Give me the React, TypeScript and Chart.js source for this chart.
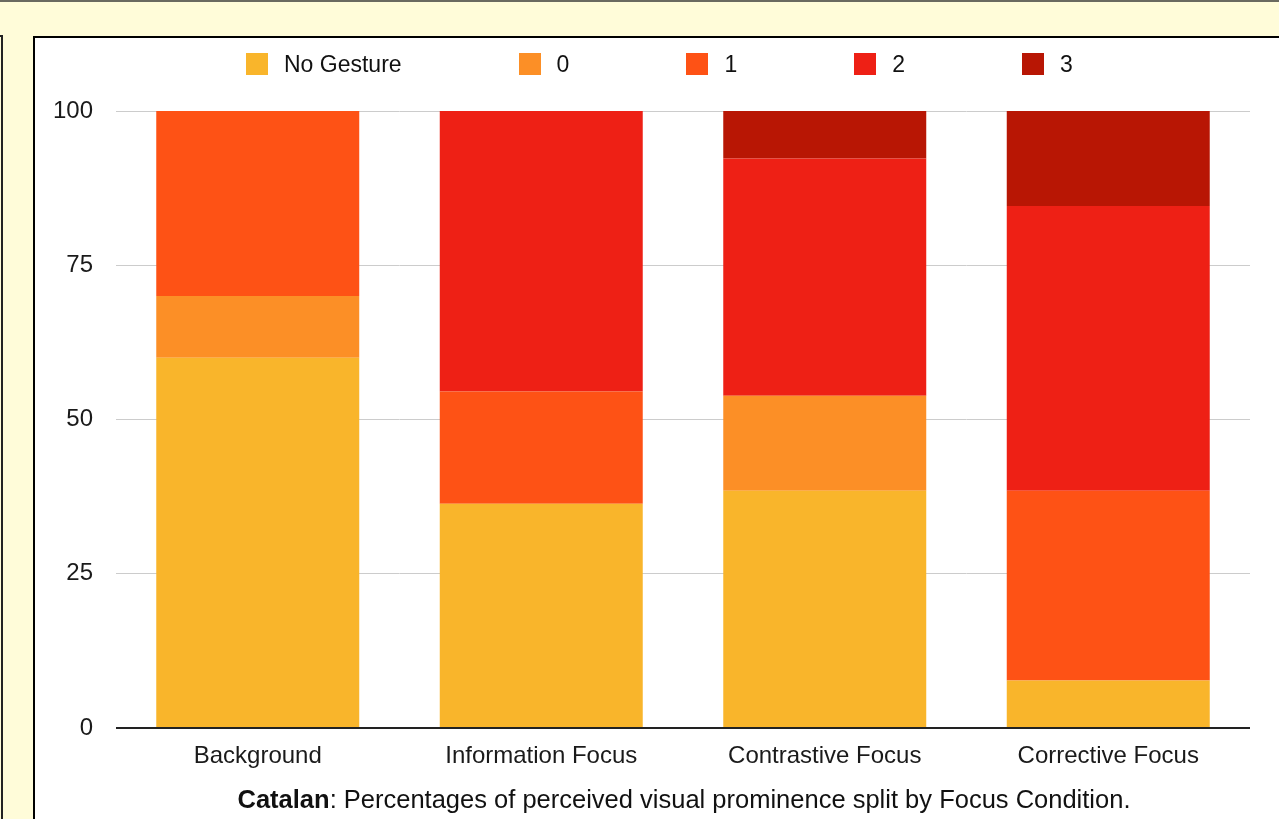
import React, { useEffect, useRef } from "react";
import { Chart, registerables } from "chart.js";

Chart.register(...registerables);

const categories = ["Background", "Information Focus", "Contrastive Focus", "Corrective Focus"];
const seriesNames = ["No Gesture", "0", "1", "2", "3"];
const noGesture = [60, 36.36, 38.46, 7.69];
const level0 = [10, 0, 15.38, 0];
const level1 = [30, 18.18, 0, 30.77];
const level2 = [0, 45.45, 38.46, 46.15];
const level3 = [0, 0, 7.69, 15.38];
const yTicks = [0, 25, 50, 75, 100];
const seriesColors = ["#F9B52B", "#FC8F26", "#FE5215", "#EE2015", "#B81604"];

const FONT = '"Liberation Sans", Arial, Helvetica, sans-serif';

export default function App() {
  const canvasRef = useRef<HTMLCanvasElement | null>(null);

  useEffect(() => {
    if (!canvasRef.current) return;
    const seriesValues = [noGesture, level0, level1, level2, level3];
    const chart = new Chart(canvasRef.current, {
      type: "bar",
      data: {
        labels: categories,
        datasets: seriesNames.map((name, i) => ({
          label: name,
          data: seriesValues[i],
          backgroundColor: seriesColors[i],
          borderWidth: 0,
          barPercentage: 0.716,
          categoryPercentage: 1,
        })),
      },
      options: {
        responsive: false,
        animation: false,
        layout: { padding: { top: 73, right: 29, bottom: 0, left: 0 } },
        plugins: {
          legend: { display: false },
          title: { display: false },
          tooltip: { enabled: false },
        },
        scales: {
          x: {
            stacked: true,
            grid: { display: false, drawTicks: false },
            border: { display: false },
            ticks: {
              color: "#1a1a1a",
              font: { family: FONT, size: 24 },
              padding: 14,
              maxRotation: 0,
              autoSkip: false,
            },
            afterFit: (s: any) => {
              s.height = 91;
            },
          },
          y: {
            stacked: true,
            min: 0,
            max: 100,
            afterBuildTicks: (s: any) => {
              s.ticks = yTicks.map((v) => ({ value: v }));
            },
            grid: {
              drawTicks: false,
              color: (c: any) => (c.tick && c.tick.value === 0 ? "#222222" : "#cccccc"),
              lineWidth: (c: any) => (c.tick && c.tick.value === 0 ? 2 : 1),
            },
            border: { display: false },
            ticks: {
              color: "#1a1a1a",
              font: { family: FONT, size: 24 },
              padding: 23,
            },
            afterFit: (s: any) => {
              s.width = 81;
            },
          },
        },
      },
    });
    return () => chart.destroy();
  }, []);

  return (
    <div
      style={{
        position: "fixed",
        left: 0,
        top: 0,
        width: 1279,
        height: 819,
        overflow: "hidden",
        background: "#FFFCD9",
        fontFamily: FONT,
      }}
    >
      <div style={{ position: "absolute", left: 0, top: 0, width: 1279, height: 2, background: "#6a6a60" }} />
      <div
        style={{
          position: "absolute",
          left: -100,
          top: 35,
          width: 103,
          height: 900,
          boxSizing: "border-box",
          border: "2px solid #222",
        }}
      />
      <div
        style={{
          position: "absolute",
          left: 33,
          top: 36,
          width: 1300,
          height: 900,
          boxSizing: "border-box",
          border: "2px solid #000",
          background: "#ffffff",
        }}
      >
        <canvas
          ref={canvasRef}
          width={1244}
          height={781}
          style={{ position: "absolute", left: 0, top: 0, width: 1244, height: 781 }}
        />
      </div>
      <div
        style={{
          position: "absolute",
          left: 246,
          top: 53,
          display: "flex",
          alignItems: "center",
          gap: 117,
          whiteSpace: "nowrap",
        }}
      >
        {seriesNames.map((name, i) => (
          <div key={name} style={{ display: "flex", alignItems: "center" }}>
            <div style={{ width: 22, height: 22, background: seriesColors[i], marginRight: 16 }} />
            <span style={{ fontSize: 23, lineHeight: "22px", color: "#111" }}>{name}</span>
          </div>
        ))}
      </div>
      <div
        style={{
          position: "absolute",
          left: 0,
          top: 787,
          width: 1368,
          textAlign: "center",
          fontSize: 25.5,
          lineHeight: "25px",
          color: "#111",
          whiteSpace: "nowrap",
        }}
      >
        <b>Catalan</b>: Percentages of perceived visual prominence split by Focus Condition.
      </div>
    </div>
  );
}
